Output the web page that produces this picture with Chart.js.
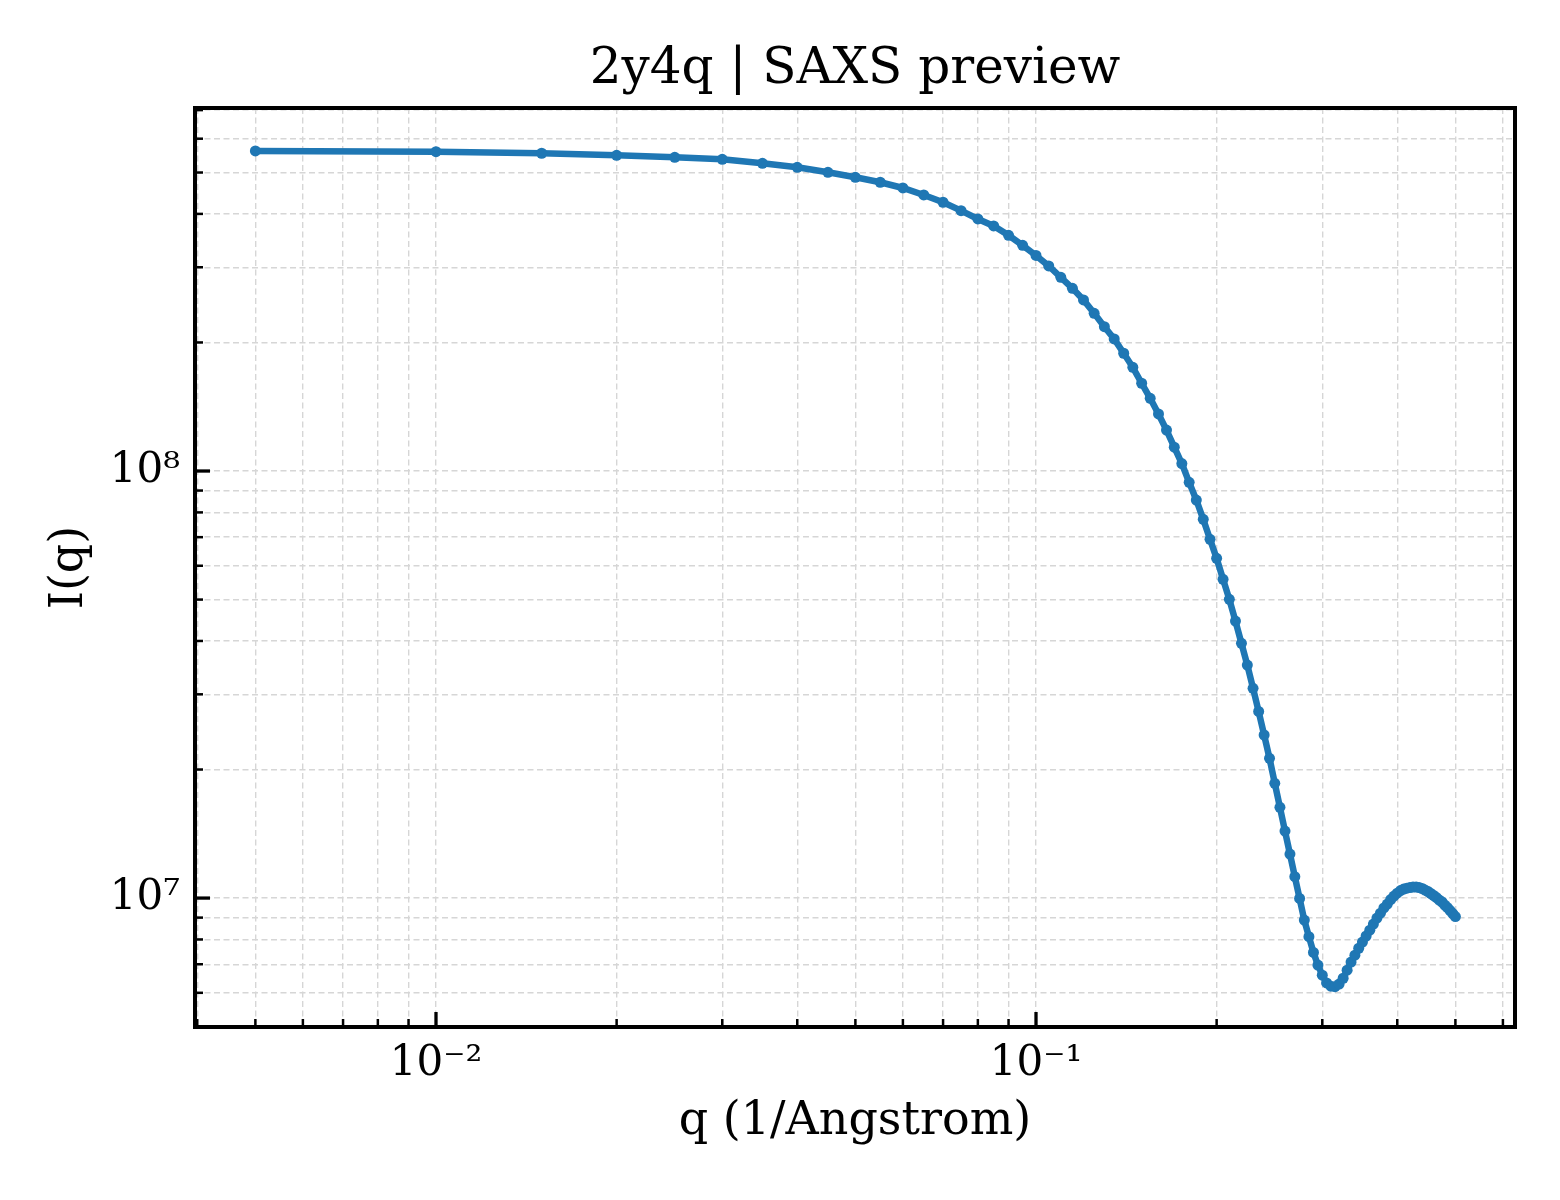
<!DOCTYPE html>
<html>
<head>
<meta charset="utf-8">
<title>2y4q | SAXS preview</title>
<script src="https://cdn.jsdelivr.net/npm/chart.js@4.4.1/dist/chart.umd.min.js"></script>
<style>
    body { margin: 0; background: #fff; }
    #saxsChart { display: block; }
</style>
</head>
<body>
<canvas id="saxsChart" width="1560" height="1200" style="width:1560px;height:1200px"></canvas>
<script>
// q values (1/Angstrom)
const qValues = [
    0.005, 0.010, 0.015, 0.020, 0.025, 0.030, 0.035, 0.040, 0.045, 0.050,
    0.055, 0.060, 0.065, 0.070, 0.075, 0.080, 0.085, 0.090, 0.095, 0.100,
    0.105, 0.110, 0.115, 0.120, 0.125, 0.130, 0.135, 0.140, 0.145, 0.150,
    0.155, 0.160, 0.165, 0.170, 0.175, 0.180, 0.185, 0.190, 0.195, 0.200,
    0.205, 0.210, 0.215, 0.220, 0.225, 0.230, 0.235, 0.240, 0.245, 0.250,
    0.255, 0.260, 0.265, 0.270, 0.275, 0.280, 0.285, 0.290, 0.295, 0.300,
    0.305, 0.310, 0.315, 0.320, 0.325, 0.330, 0.335, 0.340, 0.345, 0.350,
    0.355, 0.360, 0.365, 0.370, 0.375, 0.380, 0.385, 0.390, 0.395, 0.400,
    0.405, 0.410, 0.415, 0.420, 0.425, 0.430, 0.435, 0.440, 0.445, 0.450,
    0.455, 0.460, 0.465, 0.470, 0.475, 0.480, 0.485, 0.490, 0.495, 0.500
];

// I(q)
const intensity = [
    5.616e8, 5.595e8, 5.547e8, 5.487e8, 5.428e8, 5.370e8, 5.255e8, 5.143e8, 5.006e8, 4.873e8,
    4.744e8, 4.600e8, 4.430e8, 4.259e8, 4.070e8, 3.892e8, 3.748e8, 3.564e8, 3.377e8, 3.197e8,
    3.021e8, 2.842e8, 2.678e8, 2.515e8, 2.340e8, 2.177e8, 2.038e8, 1.887e8, 1.749e8, 1.605e8,
    1.480e8, 1.360e8, 1.247e8, 1.137e8, 1.041e8, 9.409e7, 8.552e7, 7.706e7, 6.919e7, 6.245e7,
    5.577e7, 5.006e7, 4.454e7, 3.949e7, 3.513e7, 3.099e7, 2.735e7, 2.409e7, 2.125e7, 1.857e7,
    1.631e7, 1.435e7, 1.268e7, 1.122e7, 9.98e6, 8.88e6, 8.12e6, 7.46e6, 6.97e6, 6.60e6,
    6.33e6, 6.22e6, 6.20e6, 6.29e6, 6.49e6, 6.78e6, 7.08e6, 7.35e6, 7.63e6, 7.89e6,
    8.15e6, 8.41e6, 8.69e6, 8.98e6, 9.22e6, 9.48e6, 9.68e6, 9.92e6, 1.011e7, 1.027e7,
    1.041e7, 1.050e7, 1.055e7, 1.058e7, 1.061e7, 1.061e7, 1.058e7, 1.053e7, 1.044e7, 1.036e7,
    1.025e7, 1.014e7, 1.003e7, 9.89e6, 9.79e6, 9.63e6, 9.50e6, 9.35e6, 9.20e6, 9.05e6
];

// tick positions and labels
const xTicks = [
    0.004, 0.005, 0.006, 0.007, 0.008, 0.009,
    0.01, 0.02, 0.03, 0.04, 0.05, 0.06, 0.07, 0.08, 0.09,
    0.1, 0.2, 0.3, 0.4, 0.5, 0.6
];
const xMajorTicks = [0.01, 0.1];
const xMajorLabels = ["10\u207B\u00B2", "10\u207B\u00B9"];

const yTicks = [
    5e6, 6e6, 7e6, 8e6, 9e6,
    1e7, 2e7, 3e7, 4e7, 5e7, 6e7, 7e7, 8e7, 9e7,
    1e8, 2e8, 3e8, 4e8, 5e8, 6e8, 7e8
];
const yMajorTicks = [1e7, 1e8];
const yMajorLabels = ["10\u2077", "10\u2078"];

const xRange = [0.003966, 0.6285];
const yRange = [4.99e6, 7.08e8];

const FONT = "'DejaVu Serif', 'Liberation Serif', serif";
const LINE_COLOR = "#1f77b4";
const GRID_COLOR = "#d6d6d6";

// matplotlib-like frame with inward ticks on the left and bottom
const frameAndTicks = {
    id: "frameAndTicks",
    afterDraw(chart) {
        const { ctx, chartArea: area, scales } = chart;
        ctx.save();
        ctx.strokeStyle = "#000";
        ctx.lineCap = "butt";

        xTicks.forEach(v => {
            const px = scales.x.getPixelForValue(v);
            if (px < area.left || px > area.right) return;
            const major = xMajorTicks.includes(v);
            ctx.lineWidth = major ? 3.3 : 2.5;
            ctx.beginPath();
            ctx.moveTo(px, area.bottom);
            ctx.lineTo(px, area.bottom - (major ? 15 : 8));
            ctx.stroke();
        });

        yTicks.forEach(v => {
            const py = scales.y.getPixelForValue(v);
            if (py < area.top || py > area.bottom) return;
            const major = yMajorTicks.includes(v);
            ctx.lineWidth = major ? 3.3 : 2.5;
            ctx.beginPath();
            ctx.moveTo(area.left, py);
            ctx.lineTo(area.left + (major ? 15 : 8), py);
            ctx.stroke();
        });

        ctx.lineWidth = 4;
        ctx.strokeRect(area.left, area.top, area.right - area.left, area.bottom - area.top);
        ctx.restore();
    }
};

new Chart(document.getElementById("saxsChart"), {
    type: "line",
    data: {
        datasets: [{
            data: qValues.map((q, i) => ({ x: q, y: intensity[i] })),
            borderColor: LINE_COLOR,
            backgroundColor: LINE_COLOR,
            pointBackgroundColor: LINE_COLOR,
            borderWidth: 6.5,
            pointRadius: 5.5,
            pointBorderWidth: 0,
            tension: 0
        }]
    },
    options: {
        responsive: false,
        animation: false,
        devicePixelRatio: 1,
        layout: {
            padding: { left: 0, right: 45, top: 0, bottom: 0 }
        },
        plugins: {
            legend: { display: false },
            tooltip: { enabled: false },
            title: {
                display: true,
                fullSize: false,
                text: "2y4q | SAXS preview",
                color: "#000",
                font: { family: FONT, size: 50, weight: "normal" },
                padding: { top: 40, bottom: 8 }
            }
        },
        scales: {
            x: {
                type: "logarithmic",
                min: xRange[0],
                max: xRange[1],
                afterBuildTicks: scale => {
                    scale.ticks = xTicks.map(v => ({ value: v }));
                },
                afterFit: scale => {
                    scale.height = 173;
                },
                ticks: {
                    autoSkip: false,
                    maxRotation: 0,
                    padding: 12,
                    color: "#000",
                    font: { family: FONT, size: 42 },
                    callback: value => {
                        const i = xMajorTicks.indexOf(value);
                        return i >= 0 ? xMajorLabels[i] : "";
                    }
                },
                grid: {
                    color: GRID_COLOR,
                    lineWidth: 1.4,
                    drawTicks: false
                },
                border: { display: false, dash: [6, 3.5] },
                title: {
                    display: true,
                    text: "q (1/Angstrom)",
                    color: "#000",
                    font: { family: FONT, size: 46 },
                    padding: { top: 0, bottom: 50 }
                }
            },
            y: {
                type: "logarithmic",
                min: yRange[0],
                max: yRange[1],
                afterBuildTicks: scale => {
                    scale.ticks = yTicks.map(v => ({ value: v }));
                },
                afterFit: scale => {
                    scale.width = 195;
                },
                ticks: {
                    autoSkip: false,
                    padding: 15,
                    color: "#000",
                    font: { family: FONT, size: 42 },
                    callback: value => {
                        const i = yMajorTicks.indexOf(value);
                        return i >= 0 ? yMajorLabels[i] : "";
                    }
                },
                grid: {
                    color: GRID_COLOR,
                    lineWidth: 1.4,
                    drawTicks: false
                },
                border: { display: false, dash: [6, 3.5] },
                title: {
                    display: true,
                    text: "I(q)",
                    color: "#000",
                    font: { family: FONT, size: 46 },
                    padding: { top: 42, bottom: 0 }
                }
            }
        }
    },
    plugins: [frameAndTicks]
});
</script>
</body>
</html>
